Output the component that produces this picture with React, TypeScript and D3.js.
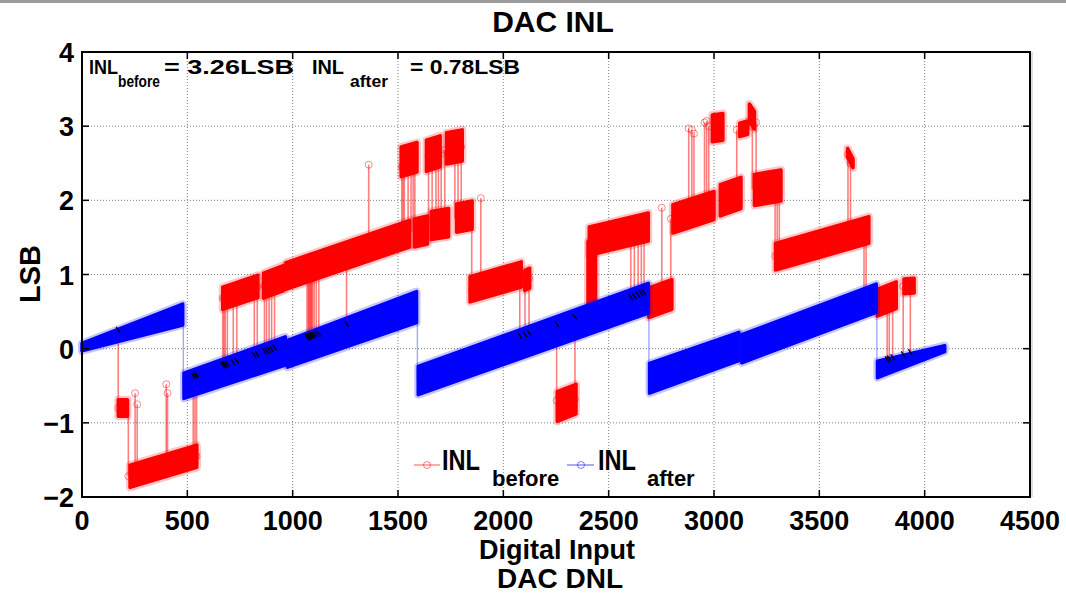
import React from 'react';
import * as d3 from 'd3';

const W = 1066;
const H = 594;

const xTicks = [0, 500, 1000, 1500, 2000, 2500, 3000, 3500, 4000, 4500];
const yTicks = [-2, -1, 0, 1, 2, 3, 4];

// INL after calibration, drawn as noisy bands:
// [startCode, endCode, startLSB, endLSB, startSpread, endSpread]
const afterSegments = [
  [0, 478, 0.02, 0.46, 0.1, 0.28],
  [484, 965, -0.5, -0.03, 0.34, 0.38],
  [976, 1588, -0.07, 0.56, 0.36, 0.42],
  [1596, 2688, -0.43, 0.68, 0.38, 0.4],
  [2694, 3118, -0.4, 0.03, 0.4, 0.38],
  [3132, 3770, 0.0, 0.68, 0.38, 0.38],
  [3776, 4095, -0.28, 0.0, 0.22, 0.08],
];

// jumps of the corrected curve between segments: [code, fromLSB, toLSB]
const afterJumps = [
  [481, 0.46, -0.5],
  [1592, 0.56, -0.43],
  [2691, 0.68, -0.4],
  [3773, 0.68, -0.28],
];

// INL before calibration where it leaves the corrected curve:
// [startCode, endCode, startLSB, endLSB, spread]
const beforeSegments = [
  [172, 216, -0.8, -0.8, 0.22],
  [228, 545, -1.72, -1.45, 0.3],
  [668, 835, 0.68, 0.84, 0.3],
  [862, 955, 0.85, 0.95, 0.34],
  [968, 1555, 0.98, 1.55, 0.36],
  [1515, 1590, 2.52, 2.58, 0.4],
  [1635, 1700, 2.6, 2.66, 0.42],
  [1730, 1805, 2.7, 2.74, 0.42],
  [1578, 1640, 1.56, 1.6, 0.38],
  [1658, 1740, 1.66, 1.7, 0.38],
  [1778, 1852, 1.76, 1.8, 0.38],
  [1842, 2085, 0.8, 1.0, 0.34],
  [2102, 2125, 0.92, 0.95, 0.27],
  [2256, 2345, -0.78, -0.68, 0.4],
  [2402, 2438, 1.02, 1.08, 0.85],
  [2408, 2688, 1.45, 1.64, 0.38],
  [2690, 2800, 0.62, 0.73, 0.4],
  [2805, 3000, 1.75, 1.93, 0.38],
  [3030, 3128, 2.0, 2.1, 0.42],
  [3192, 3318, 2.14, 2.2, 0.42],
  [3292, 3735, 1.24, 1.6, 0.36],
  [2992, 3042, 2.97, 2.99, 0.36],
  [3122, 3160, 2.95, 2.98, 0.18],
  [3168, 3192, 3.18, 3.08, 0.24],
  [3634, 3660, 2.64, 2.5, 0.12],
  [3775, 3865, 0.62, 0.72, 0.36],
  [3902, 3950, 0.84, 0.85, 0.2],
];

// single-code jumps of the uncalibrated INL: [code, fromLSB, toLSB, meetsCorrected]
const beforeJumps = [
  [172, 0.16, -0.8, 1],
  [220, -0.8, -1.72, 0],
  [252, -1.7, -0.6, 0],
  [262, -1.7, -0.75, 0],
  [400, -1.6, -0.48, 0],
  [406, -1.6, -0.6, 0],
  [528, -0.46, -1.46, 1],
  [536, -0.45, -1.45, 1],
  [544, -0.44, -1.45, 1],
  [668, -0.32, 0.68, 1],
  [674, -0.31, 0.68, 1],
  [680, -0.31, 0.69, 1],
  [690, -0.3, 0.7, 1],
  [718, -0.28, 0.7, 1],
  [735, -0.26, 0.72, 1],
  [818, -0.18, 0.82, 1],
  [832, -0.17, 0.83, 1],
  [866, -0.13, 0.85, 1],
  [876, -0.12, 0.86, 1],
  [888, -0.11, 0.87, 1],
  [900, -0.1, 0.88, 1],
  [914, -0.08, 0.9, 1],
  [1068, 0.06, 1.06, 1],
  [1074, 0.06, 1.06, 1],
  [1078, 0.07, 1.07, 1],
  [1082, 0.07, 1.07, 1],
  [1086, 0.08, 1.08, 1],
  [1090, 0.08, 1.08, 1],
  [1094, 0.09, 1.09, 1],
  [1102, 0.09, 1.1, 1],
  [1112, 0.1, 1.11, 1],
  [1124, 0.11, 1.12, 1],
  [1256, 0.24, 1.24, 1],
  [1361, 1.35, 2.48, 0],
  [1518, 1.52, 2.45, 0],
  [1524, 1.52, 2.45, 0],
  [1530, 1.53, 2.5, 0],
  [1548, 1.55, 2.55, 0],
  [1562, 1.57, 2.5, 0],
  [1572, 1.57, 2.5, 0],
  [1580, 1.58, 2.55, 0],
  [1645, 1.66, 2.6, 0],
  [1662, 1.67, 2.62, 0],
  [1680, 1.67, 2.62, 0],
  [1692, 1.68, 2.63, 0],
  [1705, 1.69, 2.63, 0],
  [1722, 1.69, 2.68, 0],
  [1770, 1.76, 2.7, 0],
  [1785, 1.77, 2.72, 0],
  [1800, 1.78, 2.72, 0],
  [1850, 1.78, 0.8, 0],
  [1893, 0.85, 2.03, 0],
  [2078, 0.08, 1.0, 1],
  [2103, 0.1, 0.95, 1],
  [2122, 0.12, 0.95, 1],
  [2253, 0.24, -0.7, 1],
  [2340, 0.33, -0.68, 1],
  [2605, 0.6, 1.58, 1],
  [2622, 0.61, 1.6, 1],
  [2640, 0.63, 1.6, 1],
  [2655, 0.65, 1.62, 1],
  [2668, 0.66, 1.62, 1],
  [2752, 0.66, 1.9, 0],
  [2795, 0.73, 1.75, 0],
  [2880, 1.83, 2.97, 0],
  [2895, 1.84, 2.95, 0],
  [2905, 1.85, 2.9, 0],
  [2955, 1.88, 3.05, 0],
  [2965, 1.89, 3.07, 0],
  [2975, 1.9, 3.0, 0],
  [3108, 2.08, 2.95, 0],
  [3182, 2.15, 3.0, 0],
  [3200, 2.15, 3.05, 0],
  [3290, 2.17, 1.25, 0],
  [3300, 2.18, 1.26, 0],
  [3310, 2.18, 1.27, 0],
  [3636, 1.53, 2.62, 0],
  [3648, 1.54, 2.5, 0],
  [3712, 1.58, 0.7, 0],
  [3722, 1.59, 0.7, 0],
  [3822, -0.24, 0.65, 1],
  [3832, -0.23, 0.66, 1],
  [3848, -0.21, 0.67, 1],
  [3898, -0.17, 0.84, 1],
  [3932, -0.14, 0.84, 1],
];

const FONT = "'Liberation Sans', Arial, sans-serif";

const x = d3.scaleLinear().domain([0, 4500]).range([82, 1030]);
const y = d3.scaleLinear().domain([-2, 4]).range([497, 52]);

const band = d3
  .area<number[]>()
  .x(d => x(d[0]))
  .y0(d => y(d[1] - d[2] / 2))
  .y1(d => y(d[1] + d[2] / 2));

const App = () => {
  const [x0, x1] = x.range();
  const [yb, yt] = y.range();

  return (
    <svg width={W} height={H} style={{ position: 'absolute', left: 0, top: 0, background: '#fff' }}
      fontFamily={FONT} fontWeight="bold">
      <rect x={0} y={0} width={W} height={3} fill="#9a9a9a" />

      {/* grid */}
      {xTicks.slice(1, -1).map(t => (
        <line key={'gx' + t} x1={x(t)} x2={x(t)} y1={yt} y2={yb} stroke="#808080" strokeDasharray="1 2" />
      ))}
      {yTicks.slice(1, -1).map(t => (
        <line key={'gy' + t} x1={x0} x2={x1} y1={y(t)} y2={y(t)} stroke="#808080" strokeDasharray="1 2" />
      ))}

      {/* before: jumps under the bands */}
      <g>
        {beforeJumps.map((d, i) => (
          <line key={'bj' + i} x1={x(d[0])} x2={x(d[0])} y1={y(d[1])} y2={y(d[2])}
            stroke="rgba(255,0,0,0.5)" strokeWidth={1.6} />
        ))}
        {beforeJumps.map((d, i) => (
          <circle key={'bc' + i} cx={x(d[0])} cy={y(d[2])} r={3.5} fill="none"
            stroke="rgba(255,0,0,0.45)" strokeWidth={1} />
        ))}
      </g>
      <g>
        {beforeSegments.map((s, i) => {
          const p = band([[s[0], s[2], s[4]], [s[1], s[3], s[4]]]) || '';
          return (
            <g key={'bs' + i}>
              <path d={p} fill="none" stroke="rgba(255,0,0,0.22)" strokeWidth={8} strokeLinejoin="round" />
              <path d={p} fill="#ff0000" stroke="#ff0000" strokeWidth={3.5} strokeLinejoin="round" />
            </g>
          );
        })}
      </g>

      {/* after */}
      <g>
        {afterJumps.map((d, i) => (
          <line key={'aj' + i} x1={x(d[0])} x2={x(d[0])} y1={y(d[1])} y2={y(d[2])}
            stroke="rgba(0,0,255,0.35)" strokeWidth={1.4} />
        ))}
        {afterSegments.map((s, i) => {
          const p = band([[s[0], s[2], s[4]], [s[1], s[3], s[5]]]) || '';
          return (
            <g key={'as' + i}>
              <path d={p} fill="none" stroke="rgba(0,0,255,0.22)" strokeWidth={8} strokeLinejoin="round" />
              <path d={p} fill="#0000ff" stroke="#0000ff" strokeWidth={3.5} strokeLinejoin="round" />
            </g>
          );
        })}
      </g>
      <g>
        {beforeJumps.filter(d => d[3] === 1).map((d, i) => (
          <line key={'bk' + i} x1={x(d[0]) - 2} x2={x(d[0]) + 2} y1={y(d[1]) - 10} y2={y(d[1]) - 4}
            stroke="#000" strokeWidth={1.3} />
        ))}
      </g>

      {/* axes box */}
      <rect x={x0} y={yt} width={x1 - x0} height={yb - yt} fill="none" stroke="#000" strokeWidth={2} />
      <line x1={x1 + 2} x2={x1 + 2} y1={yt} y2={yb} stroke="#bbb" strokeWidth={1} />
      {xTicks.map(t => (
        <g key={'tx' + t}>
          <line x1={x(t)} x2={x(t)} y1={yb} y2={yb - 7} stroke="#000" strokeWidth={1.5} />
          <line x1={x(t)} x2={x(t)} y1={yt} y2={yt + 7} stroke="#000" strokeWidth={1.5} />
          <text x={x(t)} y={yb + 33} textAnchor="middle" fontSize={27}>{t}</text>
        </g>
      ))}
      {yTicks.map(t => (
        <g key={'ty' + t}>
          <line x1={x0} x2={x0 + 7} y1={y(t)} y2={y(t)} stroke="#000" strokeWidth={1.5} />
          <line x1={x1} x2={x1 - 7} y1={y(t)} y2={y(t)} stroke="#000" strokeWidth={1.5} />
          <text x={x0 - 8} y={y(t) + 10} textAnchor="end" fontSize={27}>{t < 0 ? '\u2212' + Math.abs(t) : t}</text>
        </g>
      ))}

      {/* titles */}
      <text x={553} y={32} textAnchor="middle" fontSize={30}>DAC INL</text>
      <text x={557} y={559} textAnchor="middle" fontSize={27}>Digital Input</text>
      <text x={560} y={588} textAnchor="middle" fontSize={28}>DAC DNL</text>
      <text transform="translate(40,274) rotate(-90)" textAnchor="middle" fontSize={29}>LSB</text>

      {/* annotation */}
      <g fontSize={21}>
        <text x={89} y={74} textLength={29} lengthAdjust="spacingAndGlyphs">INL</text>
        <text x={118} y={87} fontSize={16} textLength={42} lengthAdjust="spacingAndGlyphs">before</text>
        <text x={164} y={74} textLength={130} lengthAdjust="spacingAndGlyphs">= 3.26LSB</text>
        <text x={312} y={74} textLength={32} lengthAdjust="spacingAndGlyphs">INL</text>
        <text x={350} y={87} fontSize={16} textLength={38} lengthAdjust="spacingAndGlyphs">after</text>
        <text x={410} y={74} textLength={110} lengthAdjust="spacingAndGlyphs">= 0.78LSB</text>
      </g>

      {/* legend */}
      <g>
        <line x1={414} x2={440} y1={465} y2={465} stroke="rgba(255,0,0,0.45)" strokeWidth={1.5} />
        <circle cx={427} cy={465} r={3.5} fill="none" stroke="rgba(255,0,0,0.5)" />
        <text x={442} y={470} fontSize={29} textLength={38} lengthAdjust="spacingAndGlyphs">INL</text>
        <text x={492} y={486} fontSize={22}>before</text>
        <line x1={567} x2={594} y1={465} y2={465} stroke="rgba(0,0,255,0.45)" strokeWidth={1.5} />
        <circle cx={581} cy={465} r={3.5} fill="none" stroke="rgba(0,0,255,0.5)" />
        <text x={598} y={470} fontSize={29} textLength={38} lengthAdjust="spacingAndGlyphs">INL</text>
        <text x={647} y={486} fontSize={22}>after</text>
      </g>
    </svg>
  );
};

export default App;
